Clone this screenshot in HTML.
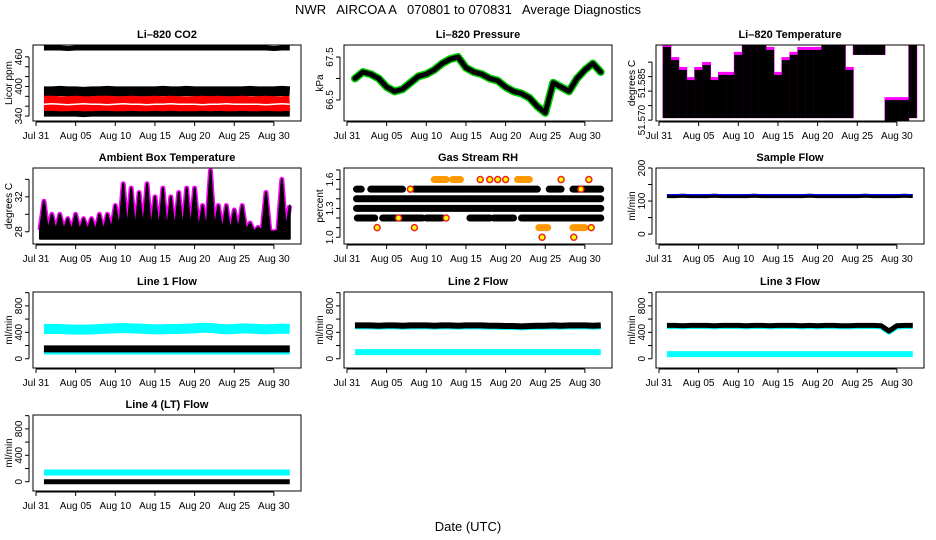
<!DOCTYPE html>
<html><head><meta charset="utf-8"><style>
html,body{margin:0;padding:0;background:#fff}
svg{display:block;font-family:"Liberation Sans",sans-serif}
</style></head><body>
<svg id="chart" width="936" height="540" viewBox="0 0 936 540">
<text x="468" y="14" text-anchor="middle" font-size="13" style="white-space:pre">NWR   AIRCOA A   070801 to 070831   Average Diagnostics</text>
<text x="468" y="531" text-anchor="middle" font-size="13">Date (UTC)</text>
</svg>
<script>
const days=[1,2,3,4,5,6,7,8,9,10,11,12,13,14,15,16,17,18,19,20,21,22,23,24,25,26,27,28,29,30,31,32];
const xTickDays=[0,5,10,15,20,25,30];
const xTickLabels=["Jul 31","Aug 05","Aug 10","Aug 15","Aug 20","Aug 25","Aug 30"];
// CO2
const co2Top=[478,478,478,477,478,478,478,478,478,478,478,478,478,478,478,478,478,478,478,478,478,478,478,478,478,478,478,478,478,477,478,478];
const co2Upper=[390,390,391,390,390,389,390,390,391,390,390,390,390,390,390,391,390,390,391,390,390,390,390,390,390,390,391,390,390,390,391,390];
const co2Red=[366,366,365,365,366,365,365,366,366,365,365,366,365,365,366,365,366,365,365,365,366,365,366,365,365,366,365,365,366,365,365,366];
const co2White=[364,365,364,363,364,365,364,364,363,364,365,364,364,363,364,364,365,364,364,364,363,364,364,365,364,364,364,364,363,364,365,364];
const co2Low=[345,345,345,345,345,344,345,345,345,345,345,345,345,345,345,345,345,345,345,345,345,345,345,345,345,345,345,345,345,345,345,345];
// Pressure
const pressure=[67.0,67.15,67.1,67.0,66.8,66.7,66.75,66.9,67.05,67.1,67.2,67.35,67.45,67.5,67.25,67.15,67.1,67.0,66.95,66.8,66.7,66.65,66.55,66.35,66.2,66.9,66.8,66.7,67.0,67.2,67.35,67.15];
// Li-820 temperature
const ltHi=[51.5952,51.5907,51.5873,51.5838,51.5873,51.5890,51.5838,51.5856,51.5856,51.5925,51.5959,51.5959,51.5959,51.5942,51.5856,51.5907,51.5925,51.5942,51.5942,51.5942,51.5959,51.5959,51.5959,51.5873,51.5959,51.5959,51.5959,51.5959,51.5769,51.5769,51.5769,51.5959];
const ltLo=[51.5707,51.5707,51.5707,51.5707,51.5707,51.5707,51.5707,51.5707,51.5707,51.5707,51.5707,51.5707,51.5707,51.5707,51.5707,51.5707,51.5707,51.5707,51.5707,51.5707,51.5707,51.5707,51.5707,51.5707,51.5925,51.5925,51.5925,51.5925,51.5697,51.5697,51.5697,51.5707];
// Ambient
const ambMax=[31.5,30,30,29.5,30,29.5,29.5,30,30,31,33.5,33,32.5,33.5,32,33,32,32.5,33,33,31,35,31,31,30.5,31,29,28.5,32.5,28,34,31];
const ambMin=[27.4,27.3,27.3,27.4,27.3,27.3,27.4,27.3,27.3,27.4,27.5,27.4,27.4,27.5,27.4,27.4,27.3,27.4,27.4,27.4,27.3,27.3,27.5,27.3,27.2,27.3,27.3,27.2,27.3,27.2,27.3,27.4];
// RH segments
const rhLevels=[1.4,1.3,1.5,1.5,1.5,1.5,1.5,1.5,1.2,1.2,1.2,1.2,1.2,1.2,1.6,1.6,1.6,1.1,1.1];
const rhStart=[1.2,1.2,1.2,3.0,8.5,15.5,25.5,28.5,1.3,4.5,10,15.5,18.5,22,11,13.3,21.5,24.2,28.5];
const rhEnd=[32,32,1.8,7,15.3,24,27,32,3.5,9.5,12,18,21,32,12.5,14.3,23,25.3,30];
const rhDotLevel=[1.6,1.6,1.6,1.6,1.6,1.6,1.1,1.1,1.1,1.0,1.0,1.2,1.2,1.5,1.5];
const rhDotDay=[16.8,18,19,20,27,30.5,3.8,8.5,30.8,24.6,28.6,6.5,12.5,8,29.5];
// Sample flow
const sampleFlow=[115,115,116,115,115,115,116,115,115,115,115,116,115,115,115,115,115,115,116,115,115,115,115,115,115,116,115,115,115,115,116,115];
// Line flows
const l1Cyan=[450,452,450,445,440,440,445,450,455,460,465,460,455,450,445,445,450,450,455,460,470,465,455,445,450,460,455,450,445,450,455,450];
const l1Black=Array(32).fill(150);
const l1CyanLow=Array(32).fill(125);
const l2Black=[505,505,505,500,505,505,500,505,505,505,500,505,505,500,505,505,505,500,500,495,495,490,495,500,500,505,500,505,505,505,500,505];
const l2Cyan=Array(32).fill(100);
const l3Black=[505,505,500,505,505,505,500,505,505,505,500,505,505,500,505,505,505,500,505,500,505,505,500,500,505,505,505,500,420,500,505,505];
const l3CyanLow=Array(32).fill(70);
const l4Cyan=Array(32).fill(140);
const l4Black=Array(32).fill(0);

const NS="http://www.w3.org/2000/svg";
const svg=document.getElementById('chart');
const colL=[33,344,656],rowT=[45,168,292,415],W=268,H=76,PPD=7.93;
function mk(tag,attrs,parent){const e=document.createElementNS(NS,tag);for(const k in attrs)e.setAttribute(k,attrs[k]);(parent||svg).appendChild(e);return e;}

function panel(name,title,col,row,y0,y1,yTicks,yLabels,yTitle){
  const L=colL[col],T=rowT[row];
  const g=mk('g',{});
  
  
  const xs=d=>L+3+d*PPD;
  const ys=v=>T+H-(v-y0)/(y1-y0)*H;
  const clip=mk('clipPath',{id:'c'+name},g);mk('rect',{x:L,y:T,width:W,height:H},clip);
  const data=mk('g',{'clip-path':'url(#c'+name+')'},g);
  
  
  const box=mk('rect',{x:L,y:T,width:W,height:H,fill:'none',stroke:'#000','stroke-width':1},g);
  
  
  const t=mk('text',{x:L+W/2,y:T-7,'text-anchor':'middle','font-size':11,'font-weight':'bold'},g);t.textContent=title;
  
  
  const by=T+H+1;
  mk('line',{x1:xs(xTickDays[0]),x2:xs(xTickDays[xTickDays.length-1]),y1:by,y2:by,stroke:'#000'},g);
  xTickDays.forEach((d,i)=>{
    mk('line',{x1:xs(d),x2:xs(d),y1:by,y2:by+4,stroke:'#000'},g);
    const tx=mk('text',{x:xs(d),y:by+17,'text-anchor':'middle','font-size':10},g);tx.textContent=xTickLabels[i];
    
    
  });
  const ax=L-4;
  mk('line',{x1:ax,x2:ax,y1:ys(yTicks[0]),y2:ys(yTicks[yTicks.length-1]),stroke:'#000'},g);
  yTicks.forEach((v,i)=>{
    mk('line',{x1:ax,x2:ax-4,y1:ys(v),y2:ys(v),stroke:'#000'},g);
    if(yLabels[i]){const tx=mk('text',{x:0,y:0,'text-anchor':'middle','font-size':10,transform:`translate(${ax-7},${ys(v)}) rotate(-90)`},g);tx.textContent=yLabels[i];
      
      }
  });
  const yt=mk('text',{x:0,y:0,'text-anchor':'middle','font-size':10,transform:`translate(${L-21},${T+H/2}) rotate(-90)`},g);yt.textContent=yTitle;
  
  
  return {xs,ys,data};
}
function band(p,vals,color,w,nm,cap){
  const pts=days.map((d,i)=>p.xs(d)+','+p.ys(vals[i])).join(' ');
  const e=mk('polyline',{points:pts,fill:'none',stroke:color,'stroke-width':w,'stroke-linecap':cap||'butt','stroke-linejoin':'round'},p.data);
  
  
}

// CO2
let p=panel('co2','Li\u2013820 CO2',0,0,330,484,[340,360,380,400,420,440,460],['340','','','400','','','460'],'Licor ppm');
band(p,co2Top,'#000',5,'co2-high-band');
band(p,co2Upper,'#000',10,'co2-upper-band');
band(p,co2Low,'#000',6,'co2-low-band');
band(p,co2Red,'#f00',15,'co2-red-band');
band(p,co2White,'#fff',1.5,'co2-white-band');

// Pressure
p=panel('pressure','Li\u2013820 Pressure',1,0,66.01,67.78,[66.5,67.0,67.5],['66.5','','67.5'],'kPa');
band(p,pressure,'#0c0',8,'pressure-green','round');
band(p,pressure,'#000',5,'pressure-line','round');

// Li-820 temp
p=panel('li820-temp','Li\u2013820 Temperature',2,0,51.5697,51.5959,[51.570,51.575,51.580,51.585,51.590],['51.570','','51.','585',''],'degrees C');
days.forEach((d,i)=>{
  const m=mk('rect',{x:p.xs(d)-4.5,y:p.ys(ltHi[i])-3,width:9,height:p.ys(ltLo[i])-p.ys(ltHi[i])+3,fill:'#f0f'},p.data);
  
  
});
days.forEach((d,i)=>{
  const b=mk('rect',{x:p.xs(d)-4,y:p.ys(ltHi[i]),width:8,height:p.ys(ltLo[i])-p.ys(ltHi[i]),fill:'#000'},p.data);
  
  
});

// Ambient
p=panel('ambient','Ambient Box Temperature',0,1,26.6,35.3,[28,30,32,34],['28','','32',''],'degrees C');
{const pts=[];days.forEach((d,i)=>{pts.push(p.xs(d-0.5)+','+p.ys(ambMin[i]+0.8));pts.push(p.xs(d)+','+p.ys(ambMax[i]));});
 const poly=[p.xs(0.5)+','+p.ys(27.2)].concat(pts,[p.xs(32)+','+p.ys(27.2)]).join(' ');
 let e=mk('polyline',{points:pts.join(' '),fill:'none',stroke:'#f0f','stroke-width':5,'stroke-linejoin':'round'},p.data);
 
 
 e=mk('polygon',{points:poly,fill:'#000',stroke:'#000','stroke-width':2,'stroke-linejoin':'round'},p.data);
 
 }

// RH
p=panel('rh','Gas Stream RH',1,1,0.93,1.72,[1.0,1.1,1.2,1.3,1.4,1.5,1.6,1.7],['1.0','','','1.3','','','1.6',''],'percent');
rhLevels.forEach((lv,i)=>{
  const e=mk('line',{x1:p.xs(rhStart[i]),x2:p.xs(rhEnd[i]),y1:p.ys(lv),y2:p.ys(lv),stroke:(lv>=1.6||lv<=1.1)?'#f90':'#000','stroke-width':7,'stroke-linecap':'round'},p.data);
  
  
});
rhDotLevel.forEach((lv,i)=>{
  const e=mk('circle',{cx:p.xs(rhDotDay[i]),cy:p.ys(lv),r:3,fill:'#ff0',stroke:'#e22','stroke-width':1.5},p.data);
  
  
});

// Sample flow
p=panel('sample-flow','Sample Flow',2,1,-30,200,[0,50,100,150,200],['0','','100','','200'],'ml/min');
band(p,sampleFlow,'#000',4,'sample-flow-line');
band(p,sampleFlow.map(v=>v+4),'#00f',1.2,'sample-flow-blue');

const fT=[0,200,400,600,800,1000],fL=['0','','400','','800',''];
p=panel('line1','Line 1 Flow',0,2,-140,1010,fT,fL,'ml/min');
band(p,l1Cyan,'#0ff',10,'line1-cyan-high');
band(p,l1CyanLow,'#0ff',8,'line1-cyan-low');
band(p,l1Black,'#000',7,'line1-black');
p=panel('line2','Line 2 Flow',1,2,-140,1010,fT,fL,'ml/min');
band(p,l2Black.map(v=>v-15),'#0ff',6,'line2-cyan-high');
band(p,l2Black,'#000',6,'line2-black');
band(p,l2Cyan,'#0ff',6,'line2-cyan-low');
p=panel('line3','Line 3 Flow',2,2,-140,1010,fT,fL,'ml/min');
band(p,l3Black.map(v=>v-10),'#0ff',6,'line3-cyan-high');
band(p,l3Black,'#000',5,'line3-black');
band(p,l3CyanLow,'#0ff',6,'line3-cyan-low');
p=panel('line4','Line 4 (LT) Flow',0,3,-140,1010,fT,fL,'ml/min');
band(p,l4Cyan,'#0ff',6,'line4-cyan');
band(p,l4Black,'#000',5,'line4-black');
</script>
</body></html>
